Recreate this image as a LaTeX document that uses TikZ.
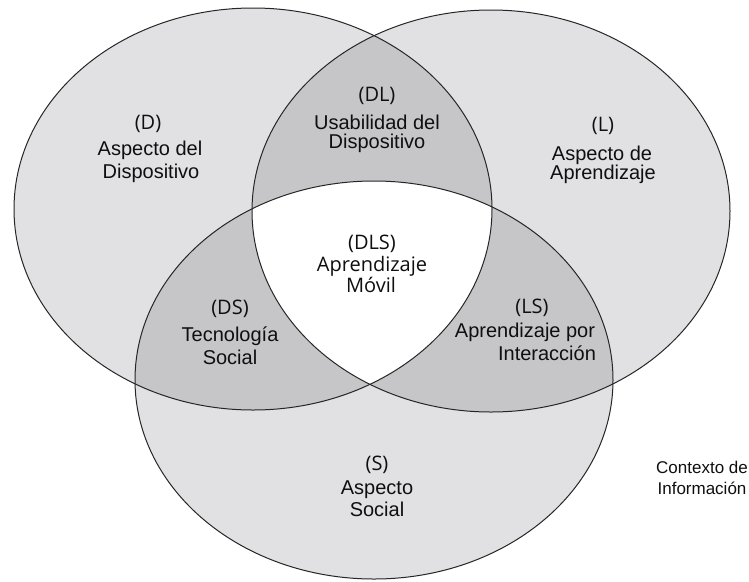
\documentclass[tikz,border=0pt]{standalone}
\usepackage{fontspec}
\setmainfont{Liberation Sans}
\newfontfamily\opensans{Open Sans}
\definecolor{lightg}{RGB}{225,225,228}
\definecolor{darkg}{RGB}{198,198,201}
\definecolor{inkc}{RGB}{15,15,15}
\begin{document}
\begin{tikzpicture}[x=1pt,y=-1pt,
  lab/.style={inner sep=0pt, text=inkc, font=\opensans\fontsize{20}{22}\selectfont},
  txt/.style={inner sep=0pt, text=inkc, font=\fontsize{20}{22}\selectfont},
  ctx/.style={inner sep=0pt, text=inkc, font=\fontsize{17}{20}\selectfont},
  outline/.style={draw=black!85, line width=1pt}]
\useasboundingbox (0,0) rectangle (749,581);
\coordinate (cD) at (253,209);
\coordinate (cL) at (491,211);
\coordinate (cS) at (374,380);
% base fills
\fill[lightg] (cD) ellipse [x radius=239, y radius=201];
\fill[lightg] (cL) ellipse [x radius=239, y radius=201];
\fill[lightg] (cS) ellipse [x radius=239, y radius=199];
% pairwise intersections
\begin{scope}
  \clip (cD) ellipse [x radius=239, y radius=201];
  \fill[darkg] (cL) ellipse [x radius=239, y radius=201];
  \fill[darkg] (cS) ellipse [x radius=239, y radius=199];
\end{scope}
\begin{scope}
  \clip (cL) ellipse [x radius=239, y radius=201];
  \fill[darkg] (cS) ellipse [x radius=239, y radius=199];
\end{scope}
% triple intersection
\begin{scope}
  \clip (cD) ellipse [x radius=239, y radius=201];
  \clip (cL) ellipse [x radius=239, y radius=201];
  \fill[white] (cS) ellipse [x radius=239, y radius=199];
\end{scope}
% outlines
\draw[outline] (cD) ellipse [x radius=239, y radius=201];
\draw[outline] (cL) ellipse [x radius=239, y radius=201];
\draw[outline] (cS) ellipse [x radius=239, y radius=199];
% labels
\node[lab] (dD) at (148,124) {(D)};
\node[txt] (dD1) at (150,150) {Aspecto del};
\node[txt] (dD2) at (151,173) {Dispositivo};
\node[lab] (dDL) at (377,96) {(DL)};
\node[txt] (dDL1) at (377,122) {Usabilidad del};
\node[txt] (dDL2) at (377,143) {Dispositivo};
\node[lab] (dL) at (603,126) {(L)};
\node[txt] (dL1) at (602,155) {Aspecto de};
\node[txt] (dL2) at (603,174) {Aprendizaje};
\node[lab] (dDLS) at (372,244) {(DLS)};
\node[lab] (dDLS1) at (372,266) {Aprendizaje};
\node[lab] (dDLS2) at (371,285) {Móvil};
\node[lab] (dDS) at (230,309) {(DS)};
\node[txt] (dDS1) at (230,336) {Tecnología};
\node[txt] (dDS2) at (230,357) {Social};
\node[lab] (dLS) at (532,308) {(LS)};
\node[txt] (dLS1) at (525,332) {Aprendizaje por};
\node[txt] (dLS2) at (547,353) {Interacción};
\node[lab] (dS) at (377,465) {(S)};
\node[txt] (dS1) at (377,490) {Aspecto};
\node[txt] (dS2) at (377,509) {Social};
\node[ctx] (ctx1) at (702,467) {Contexto de};
\node[ctx] (ctx2) at (702,488) {Información};
\end{tikzpicture}
\end{document}
